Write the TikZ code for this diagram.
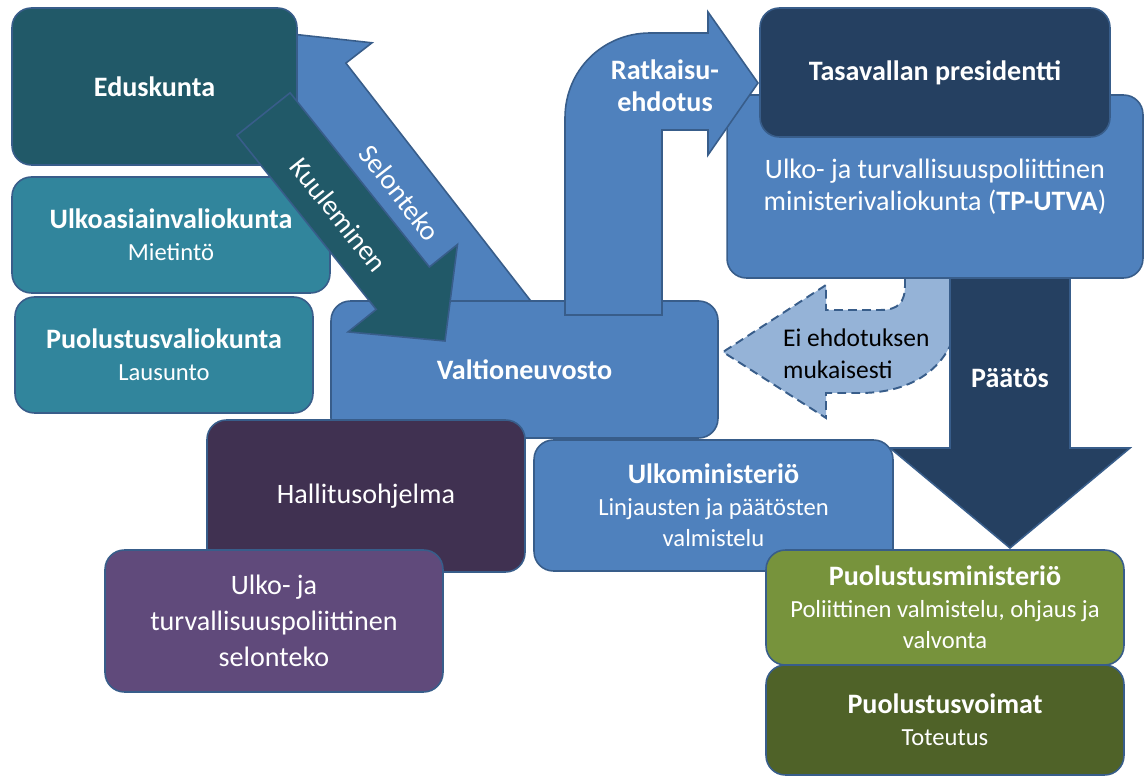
\documentclass[tikz,border=0pt]{standalone}
\usepackage{fontspec}
\setmainfont{Carlito}
\usetikzlibrary{positioning}
\definecolor{dteal}{RGB}{33,89,104}
\definecolor{mteal}{RGB}{49,133,156}
\definecolor{mblue}{RGB}{79,129,189}
\definecolor{lblue}{RGB}{149,179,215}
\definecolor{dnavy}{RGB}{37,64,97}
\definecolor{dpurple}{RGB}{64,49,81}
\definecolor{mpurple}{RGB}{96,74,123}
\definecolor{mgreen}{RGB}{119,147,60}
\definecolor{dgreen}{RGB}{79,98,40}
\definecolor{bord}{RGB}{56,93,138}
\newcommand{\subtxt}[1]{{\fontsize{14}{16}\selectfont #1}}

\begin{document}
\begin{tikzpicture}[
  x=0.02cm, y=-0.02cm,
  box/.style={rectangle, rounded corners=11pt, draw=bord, line width=0.9pt,
              text=white, align=center, inner sep=2pt,
              font=\fontsize{16}{18}\selectfont},
  blk/.style={draw=bord, line width=0.9pt, line join=miter},
  lab/.style={text=white, align=center, font=\fontsize{16}{18}\selectfont}
]
  \useasboundingbox (0,0) rectangle (1144,776);

  % Selonteko, behind Eduskunta
  \path[blk, fill=mblue] (542.3,315.8) -- (345.9,63.1) -- (372,42.8) -- (280.4,32.8)
    -- (267.7,123.9) -- (293.8,103.6) -- (490.2,356.3) -- cycle;
  \node[lab, rotate=-52] (sellab) at (400,193) {Selonteko};

  \node[box, fill=dteal, minimum width=5.7cm, minimum height=3.14cm] (edus)
    at (154.5,86.5) {\textbf{Eduskunta}};
  \node[box, fill=mblue, minimum width=7.74cm, minimum height=2.74cm] (vn)
    at (524.5,369.5) {\textbf{Valtioneuvosto}};

  \node[box, fill=mteal, minimum width=6.36cm, minimum height=2.32cm] (ulkova)
    at (171,235) {\textbf{Ulkoasiainvaliokunta}\\\subtxt{Mietintö}};
  \node[box, fill=mteal, minimum width=5.96cm, minimum height=2.32cm] (puolva)
    at (164,355) {\textbf{Puolustusvaliokunta}\\\subtxt{Lausunto}};

  % Kuuleminen
  \path[blk, fill=dteal] (236.9,135.2) -- (290.1,92.8) -- (429.4,267) -- (457.5,244.5)
    -- (445,341) -- (348.1,331.9) -- (376.2,309.4) -- cycle;
  \node[lab, rotate=-51.4] (kuullab) at (339,215) {Kuuleminen};

  % Ei ehdotuksen mukaisesti
  \path[blk, dashed, dash pattern=on 5pt off 3pt, line width=1.1pt, fill=lblue]
    (905,265) -- (905,285) .. controls (905,303) and (898,310) .. (880,310)
    -- (826,310) -- (826,285) -- (723,352) -- (826,418) -- (826,393) -- (860,393)
    .. controls (920,393) and (960,360) .. (960,300) -- (960,265) -- cycle;
  \node[anchor=west, align=left, font=\fontsize{14.5}{18}\selectfont] (eilab)
    at (777,354) {Ei ehdotuksen\\mukaisesti};

  % Paatos
  \path[blk, fill=dnavy] (950,265) -- (1070,265) -- (1070,448) -- (1130,448)
    -- (1010,548) -- (890,448) -- (950,448) -- cycle;
  \node[lab] (paatlab) at (1010,378) {\textbf{Päätös}};

  \node[box, fill=mblue, minimum width=8.32cm, minimum height=3.66cm] (utva)
    at (935,186.5) {Ulko- ja turvallisuuspoliittinen\\ministerivaliokunta (\textbf{TP-UTVA})};

  % Ratkaisuehdotus
  \path[blk, fill=mblue] (565,315) -- (565,118) .. controls (565,70) and (603,33) .. (650,33)
    -- (708,33) -- (708,12) -- (758,83) -- (708,155) -- (708,130) -- (662,130)
    -- (662,315) -- cycle;
  \node[lab] (ratklab) at (665,86) {\textbf{Ratkaisu-}\\\textbf{ehdotus}};

  \node[box, fill=dnavy, minimum width=7.0cm, minimum height=2.58cm] (tpr)
    at (935,72.5) {\textbf{Tasavallan presidentti}};

  \node[box, fill=mblue, minimum width=7.18cm, minimum height=2.62cm] (um)
    at (713.5,505.5) {\textbf{Ulkoministeriö}\\\subtxt{Linjausten ja päätösten}\\\subtxt{valmistelu}};
  \node[box, fill=dpurple, minimum width=6.36cm, minimum height=3.04cm] (hallitus)
    at (366,496) {Hallitusohjelma};
  \node[box, fill=mpurple, minimum width=6.76cm, minimum height=2.84cm,
        font=\fontsize{16}{20.5}\selectfont] (selbox)
    at (274,621) {Ulko- ja\\turvallisuuspoliittinen\\selonteko};

  \node[box, fill=dgreen, minimum width=7.16cm, minimum height=2.2cm] (pv)
    at (945,720) {\textbf{Puolustusvoimat}\\\subtxt{Toteutus}};
  \node[box, fill=mgreen, minimum width=7.16cm, minimum height=2.3cm] (pm)
    at (945,607.5) {\textbf{Puolustusministeriö}\\\subtxt{Poliittinen valmistelu, ohjaus ja}\\\subtxt{valvonta}};

\end{tikzpicture}
\end{document}
